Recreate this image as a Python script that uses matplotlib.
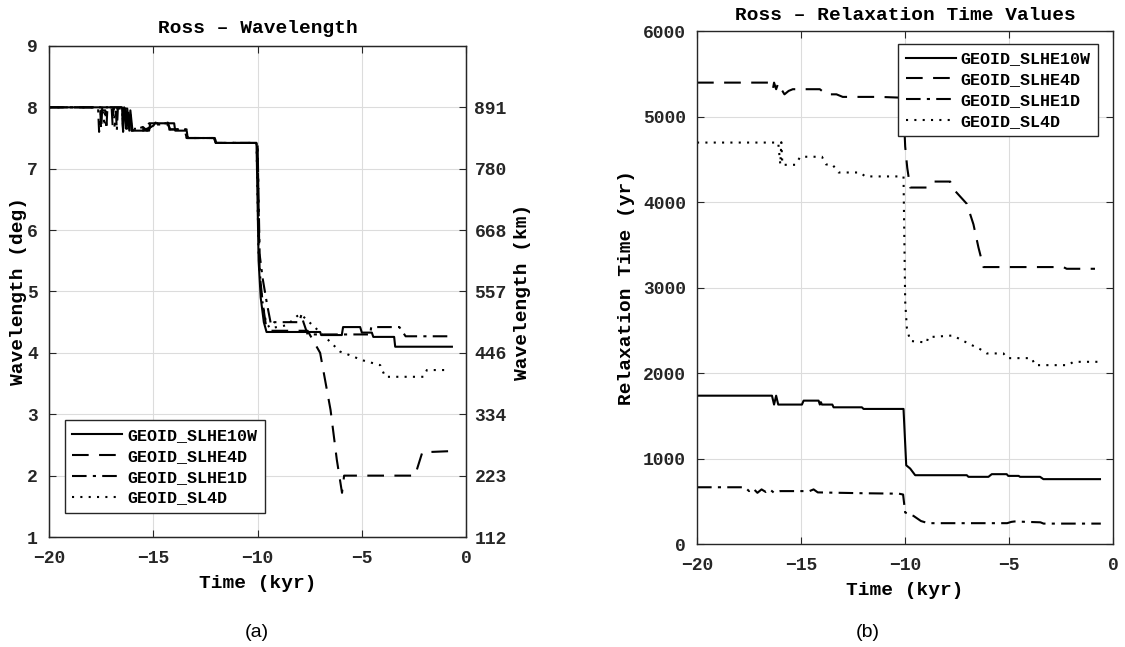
import matplotlib
matplotlib.use("Agg")
import matplotlib.pyplot as plt

# ---- panel (a): wavelength (deg) ----
t_a_10w = [-20, -16.5, -16.45, -16.4, -16.3, -16.25, -16.15, -16.1, -16.0, -15.2, -15.15, -14.0, -13.95,
           -13.4, -13.35, -12.05, -12.0, -10.05, -9.95, -9.85, -9.7, -9.57, -7.0, -6.95, -5.96, -5.9,
           -5.08, -5.0, -4.52, -4.45, -3.45, -3.4, -0.68]
w_a_10w = [8.0, 8.0, 7.65, 8.0, 7.7, 7.98, 7.62, 7.95, 7.62, 7.62, 7.74, 7.74, 7.62,
           7.62, 7.5, 7.5, 7.42, 7.42, 5.5, 4.9, 4.5, 4.34, 4.34, 4.29, 4.29, 4.42,
           4.42, 4.33, 4.33, 4.26, 4.26, 4.1, 4.1]

t_a_4d = [-20, -17.55, -17.5, -17.45, -17.0, -16.95, -16.9, -16.5, -16.45, -16.35, -16.3, -16.1, -16.05,
          -15.95, -15.5, -15.0, -14.9, -14.3, -14.2, -13.5, -13.4, -12.1, -12.0, -10.0, -9.9, -9.75,
          -9.6, -9.5, -7.6, -7.5, -7.0, -6.5, -6.2, -5.95, -5.85, -5.8, -2.6, -2.45, -2.1, -0.67]
w_a_4d = [8.0, 8.0, 7.62, 8.0, 8.0, 7.7, 8.0, 8.0, 7.6, 7.98, 7.65, 7.95, 7.62,
          7.62, 7.62, 7.7, 7.75, 7.75, 7.64, 7.64, 7.5, 7.5, 7.42, 7.42, 5.3, 4.8,
          4.45, 4.36, 4.36, 4.3, 4.0, 3.07, 2.26, 1.72, 2.0, 2.0, 2.0, 2.0, 2.38, 2.4]

t_a_1d = [-20, -17.65, -17.6, -17.5, -17.3, -17.25, -17.2, -16.8, -16.75, -16.7, -16.5, -16.45, -16.4,
          -16.2, -16.15, -16.0, -15.5, -15.3, -15.0, -14.3, -14.2, -13.45, -13.4, -12.05, -12.0, -10.0,
          -9.9, -9.75, -9.55, -9.35, -9.2, -8.0, -7.9, -7.8, -7.6, -4.6, -4.55, -3.2, -2.9, -0.68]
w_a_1d = [8.0, 8.0, 7.6, 7.95, 7.95, 7.65, 8.0, 8.0, 7.62, 7.98, 7.98, 7.65, 7.95,
          7.95, 7.62, 7.62, 7.68, 7.62, 7.72, 7.72, 7.64, 7.64, 7.5, 7.5, 7.42, 7.42,
          5.6, 5.2, 4.8, 4.45, 4.5, 4.5, 4.62, 4.5, 4.3, 4.3, 4.42, 4.42, 4.27, 4.27]

t_a_sl = [-20, -17.4, -17.35, -17.3, -16.9, -16.85, -16.8, -16.3, -16.25, -16.2, -16.0, -15.4, -15.2,
          -14.4, -14.3, -13.4, -13.35, -12.05, -12.0, -10.05, -9.95, -9.8, -9.6, -9.4, -8.6, -8.1,
          -7.9, -7.3, -6.7, -6.04, -5.4, -5.08, -4.12, -3.88, -2.04, -1.88, -0.76]
w_a_sl = [8.0, 8.0, 7.7, 8.0, 8.0, 7.65, 7.98, 7.98, 7.62, 7.9, 7.65, 7.65, 7.74,
          7.74, 7.64, 7.64, 7.5, 7.5, 7.42, 7.42, 5.6, 4.9, 4.5, 4.4, 4.45, 4.6,
          4.62, 4.43, 4.24, 4.02, 3.94, 3.89, 3.8, 3.61, 3.61, 3.72, 3.72]

km_ticks = [1, 2, 3, 4, 5, 6, 7, 8]
km_labels = ["112", "223", "334", "446", "557", "668", "780", "891"]

# ---- panel (b): relaxation time (yr) ----
t_b_10w = [-20, -16.4, -16.3, -16.2, -16.1, -16.0, -14.96, -14.88, -14.16, -14.1, -14.05, -14.0, -13.5,
           -13.44, -12.08, -12.0, -10.08, -9.95, -9.76, -9.52, -7.04, -6.96, -6.0, -5.84, -5.12,
           -5.05, -4.55, -4.48, -3.52, -3.36, -0.64]
r_b_10w = [1736, 1736, 1632, 1736, 1632, 1632, 1632, 1678, 1678, 1632, 1660, 1632, 1632,
           1600, 1600, 1581, 1581, 922, 884, 806, 806, 787, 787, 818, 818,
           798, 798, 787, 787, 760, 760]

t_b_4d = [-20, -16.4, -16.35, -16.3, -16.2, -16.1, -16.0, -15.9, -15.8, -15.6, -15.4, -14.1, -13.8,
          -13.3, -13.0, -11.2, -10.1, -10.0, -9.9, -9.76, -8.96, -8.64, -7.84, -7.6, -7.04,
          -6.72, -6.48, -6.24, -2.4, -2.24, -0.88]
r_b_4d = [5397, 5397, 5330, 5397, 5320, 5390, 5330, 5300, 5260, 5300, 5320, 5320, 5260,
          5260, 5230, 5230, 5220, 4650, 4400, 4170, 4170, 4240, 4240, 4130, 3980,
          3740, 3470, 3240, 3240, 3220, 3220]

t_b_1d = [-20, -17.7, -17.5, -17.3, -17.1, -16.9, -16.7, -16.5, -16.3, -16.0, -15.8, -14.6, -14.4,
          -14.2, -12.0, -10.3, -10.1, -10.0, -9.6, -9.24, -8.9, -5.1, -4.9, -4.75, -3.5, -3.35, -0.6]
r_b_1d = [665, 665, 620, 650, 600, 640, 610, 640, 600, 620, 620, 620, 640,
          605, 595, 590, 580, 370, 330, 270, 245, 245, 260, 265, 255, 240, 240]

t_b_sl = [-20, -16.1, -16.0, -15.95, -15.9, -15.84, -15.28, -15.04, -14.0, -13.8, -13.5, -13.2, -12.16,
          -11.92, -10.08, -10.0, -9.92, -9.76, -8.96, -8.9, -7.7, -7.36, -6.88, -6.4, -6.08,
          -5.28, -5.1, -3.92, -3.76, -2.16, -1.92, -0.64]
r_b_sl = [4696, 4696, 4440, 4700, 4440, 4436, 4436, 4530, 4530, 4440, 4440, 4346, 4346,
          4300, 4300, 2840, 2530, 2376, 2357, 2420, 2440, 2395, 2337, 2280, 2230,
          2230, 2175, 2175, 2093, 2093, 2132, 2132]

names = ["GEOID_SLHE10W", "GEOID_SLHE4D", "GEOID_SLHE1D", "GEOID_SL4D"]
styles = ["-", (0, (8, 5)), (0, (7, 3, 1.5, 3)), (0, (1, 3))]

mono = "Liberation Mono"
plt.rcParams["font.family"] = mono
plt.rcParams["font.weight"] = "bold"
plt.rcParams["axes.labelweight"] = "bold"
plt.rcParams["axes.titleweight"] = "bold"

fig = plt.figure(figsize=(11.25, 6.47), dpi=100)
ax1 = fig.add_axes([0.0436, 0.170, 0.3707, 0.759])
ax2 = fig.add_axes([0.6196, 0.159, 0.370, 0.793])

edge = "#262626"


def style_axes(ax):
    ax.grid(True, color="#dcdcdc", linewidth=0.8)
    ax.set_axisbelow(True)
    for s in ax.spines.values():
        s.set_color(edge)
        s.set_linewidth(1.0)
    ax.tick_params(direction="in", length=5, colors=edge, labelsize=13, top=True)
    ax.tick_params(axis="x", pad=9)
    ax.tick_params(axis="y", pad=8)
    ax.set_xlim(-20, 0)
    ax.set_xticks([-20, -15, -10, -5, 0])
    ax.set_xticklabels(["\u221220", "\u221215", "\u221210", "\u22125", "0"])


series_a = [(t_a_10w, w_a_10w), (t_a_4d, w_a_4d), (t_a_1d, w_a_1d), (t_a_sl, w_a_sl)]
for (t, w), name, ls in zip(series_a, names, styles):
    ax1.plot(t, w, color="black", linestyle=ls, linewidth=1.5, label=name)
style_axes(ax1)
ax1.set_ylim(1, 9)
ax1.set_yticks(range(1, 10))
ax1.tick_params(right=False)
ax1.set_title("Ross \u2013 Wavelength", fontsize=14, pad=9)
ax1.set_xlabel("Time (kyr)", fontsize=14, labelpad=6)
ax1.set_ylabel("Wavelength (deg)", fontsize=14, labelpad=0)
leg1 = ax1.legend(loc="lower left", bbox_to_anchor=(0.038, 0.049), fontsize=12, frameon=True,
                  fancybox=False, framealpha=1, edgecolor=edge, handlelength=3.0,
                  borderpad=0.45, labelspacing=0.35, handletextpad=0.3, borderaxespad=0)
leg1.get_frame().set_linewidth(1.0)

ax1r = ax1.twinx()
ax1r.set_ylim(1, 9)
ax1r.set_yticks(km_ticks)
ax1r.set_yticklabels(km_labels)
ax1r.tick_params(direction="in", length=5, colors=edge, labelsize=13, pad=6)
for s in ax1r.spines.values():
    s.set_color(edge)
ax1r.set_ylabel("Wavelength (km)", fontsize=14, labelpad=5)

series_b = [(t_b_10w, r_b_10w), (t_b_4d, r_b_4d), (t_b_1d, r_b_1d), (t_b_sl, r_b_sl)]
for (t, r), name, ls in zip(series_b, names, styles):
    ax2.plot(t, r, color="black", linestyle=ls, linewidth=1.5, label=name)
style_axes(ax2)
ax2.tick_params(right=True)
ax2.set_ylim(0, 6000)
ax2.set_yticks(range(0, 6001, 1000))
ax2.set_title("Ross \u2013 Relaxation Time Values", fontsize=14, pad=8)
ax2.set_xlabel("Time (kyr)", fontsize=14, labelpad=6)
ax2.set_ylabel("Relaxation Time (yr)", fontsize=14, labelpad=6)
leg2 = ax2.legend(loc="upper right", bbox_to_anchor=(0.964, 0.975), fontsize=12, frameon=True,
                  fancybox=False, framealpha=1, edgecolor=edge, handlelength=3.0,
                  borderpad=0.45, labelspacing=0.35, handletextpad=0.3, borderaxespad=0)
leg2.get_frame().set_linewidth(1.0)

fig.text(0.2284, 0.015, "(a)", fontsize=14, family="Liberation Sans", weight="normal", ha="center")
fig.text(0.7715, 0.015, "(b)", fontsize=14, family="Liberation Sans", weight="normal", ha="center")

fig.savefig("out.png", dpi=100)
